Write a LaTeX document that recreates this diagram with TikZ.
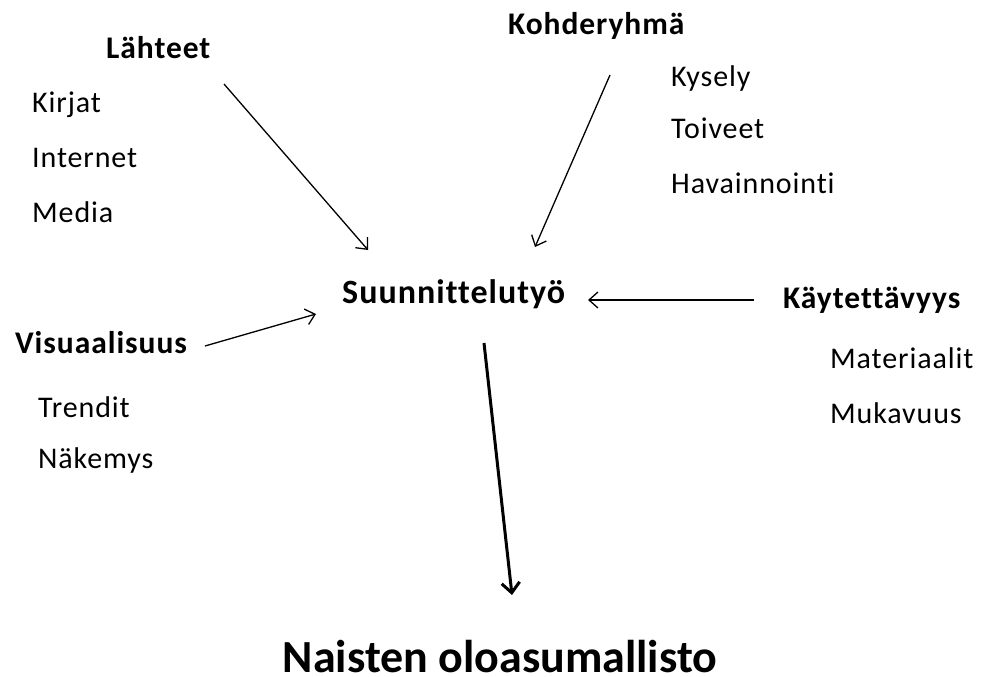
\documentclass[tikz,border=0pt]{standalone}
\usepackage{fontspec}
\setmainfont[Ligatures=NoCommon]{Carlito}
\newfontfamily\itemfont[Ligatures=NoCommon,LetterSpace=3]{Carlito}
\newfontfamily\headfont[Ligatures=NoCommon,LetterSpace=3]{Carlito}
\usetikzlibrary{arrows.meta}
\begin{document}
\begin{tikzpicture}[x=1pt,y=-1pt,
  item/.style={anchor=base west,inner sep=0pt,font=\itemfont\fontsize{30}{34}\selectfont},
  head/.style={anchor=base west,inner sep=0pt,font=\headfont\fontsize{31.5}{36}\selectfont\bfseries},
  centerhead/.style={anchor=base west,inner sep=0pt,font=\headfont\fontsize{34}{38}\selectfont\bfseries},
  titletext/.style={anchor=base,inner sep=0pt,font=\fontsize{46}{52}\selectfont\bfseries},
  conn/.style={-{Straight Barb[length=9pt,width=16pt]},line width=1.3pt},
  main conn/.style={-{Straight Barb[length=10pt,width=18pt]},line width=3pt}]
\useasboundingbox (0,0) rectangle (991,677);
\node[head] (lah) at (106,59) {Lähteet};
\node[item] (kir) at (32,113) {Kirjat};
\node[item] (int) at (32,167) {Internet};
\node[item] (med) at (32,222) {Media};
\node[head] (koh) at (508,35) {Kohderyhmä};
\node[item] (kys) at (671,87) {Kysely};
\node[item] (toi) at (671,138) {Toiveet};
\node[item] (hav) at (671,193) {Havainnointi};
\node[centerhead] (suu) at (342,303) {Suunnittelutyö};
\node[head] (kay) at (783,308) {Käytettävyys};
\node[item] (mat) at (830,368) {Materiaalit};
\node[item] (muk) at (830,423) {Mukavuus};
\node[head] (vis) at (15,353) {Visuaalisuus};
\node[item] (tre) at (38,417) {Trendit};
\node[item] (nak) at (38,468) {Näkemys};
\node[titletext] (nai) at (500,672) {Naisten oloasumallisto};
\coordinate (a1s) at (224,84);  \coordinate (a1e) at (368,250);
\coordinate (a2s) at (610,75);  \coordinate (a2e) at (535,247);
\coordinate (a3s) at (754,300); \coordinate (a3e) at (588,300);
\coordinate (a4s) at (205,346); \coordinate (a4e) at (316,314);
\coordinate (a5s) at (484,343); \coordinate (a5e) at (512,595);
\draw[conn] (a1s) -- (a1e);
\draw[conn] (a2s) -- (a2e);
\draw[conn] (a3s) -- (a3e);
\draw[conn] (a4s) -- (a4e);
\draw[main conn] (a5s) -- (a5e);
\end{tikzpicture}
\end{document}
